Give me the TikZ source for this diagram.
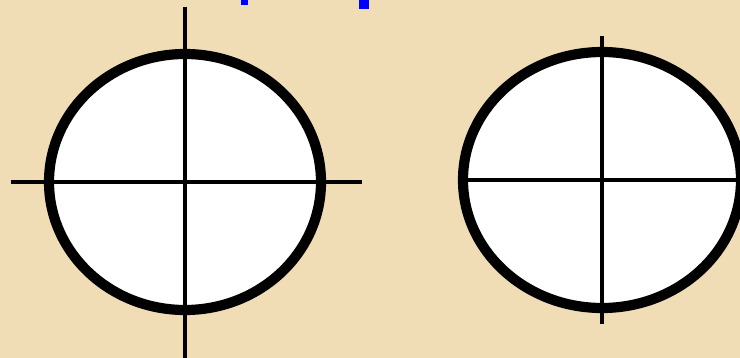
\documentclass[tikz,border=0pt]{standalone}
\usepackage{xcolor}
\definecolor{paper}{HTML}{F0DDB6}
\tikzset{rim/.style={draw=black,fill=white,line width=5.8pt},
  hair/.style={draw=black,line width=2.7pt}}
\begin{document}
\begin{tikzpicture}[x=0.02cm,y=-0.02cm]
    \clip (0,0) rectangle (740,358);
    \fill[paper] (0,0) rectangle (740,358);
    % bits of the blue heading cut off at the top
    \fill[blue] (241,0) rectangle (248,5);
    \fill[blue] (359,0) rectangle (369,9);

    % left crosshair
    \coordinate (lc) at (185,182);
    \path[rim] (lc) ellipse [x radius=136, y radius=128];
    \draw[hair] (11,182) -- (362,182);
    \draw[hair] (185,7) -- (185,358);

    % right crosshair
    \coordinate (rc) at (602,180);
    \path[rim] (rc) ellipse [x radius=139, y radius=128];
    \draw[hair] (463,180) -- (741,180);
    \draw[hair] (602,36) -- (602,324);
\end{tikzpicture}
\end{document}
